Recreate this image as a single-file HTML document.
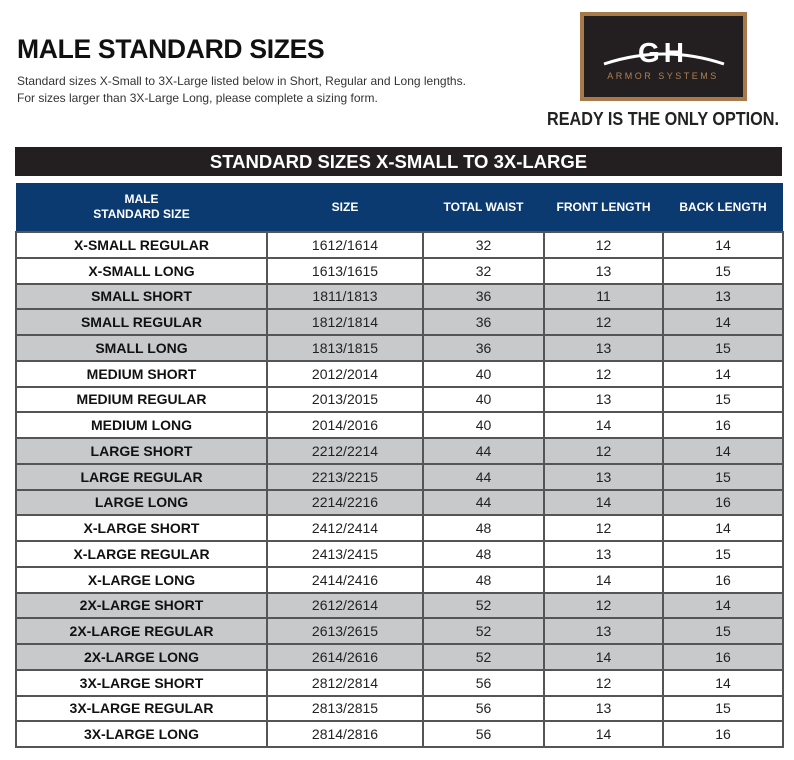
<!DOCTYPE html>
<html><head><meta charset="utf-8"><style>
body{margin:0;width:794px;height:760px;background:#fff;position:relative;font-family:"Liberation Sans",sans-serif;overflow:hidden}
.a{position:absolute}
table{position:absolute;left:15px;top:183px;border-collapse:collapse;width:767px;table-layout:fixed}
th{background:#0b3a71;color:#fff;font-size:12px;font-weight:bold;height:48px;padding:0;text-align:center;line-height:15px}
td{border:2px solid #555;height:23.75px;padding:0;text-align:center;font-size:14px;color:#222;line-height:14px}
td:first-child{font-weight:bold;font-size:14px;color:#111}
tr.g td{background:#c8c9cb}
</style></head><body>
<div class="a" style="left:17px;top:34px;font-size:26.5px;font-weight:bold;color:#111;letter-spacing:-0.3px">MALE STANDARD SIZES</div>
<div class="a" style="left:17px;top:73px;font-size:12px;color:#333;line-height:17px">Standard sizes X-Small to 3X-Large listed below in Short, Regular and Long lengths.<br>For sizes larger than 3X-Large Long, please complete a sizing form.</div>
<div class="a" style="left:580px;top:12px;width:159px;height:81px;background:#231f20;border:4px solid #a87a4a"></div>
<svg class="a" style="left:584px;top:16px" width="159" height="81">
<path d="M20 48 Q80 28 140 48" stroke="#fff" stroke-width="3" fill="none"/>
<text x="79" y="46" font-family="Liberation Sans" font-size="28" fill="#fff" text-anchor="middle" font-weight="bold" letter-spacing="4">GH</text>
<text x="79" y="63" font-family="Liberation Sans" font-size="9" fill="#b08050" text-anchor="middle" letter-spacing="2.5">ARMOR SYSTEMS</text>
</svg>
<div class="a" style="left:547px;top:109px;font-size:18px;font-weight:bold;color:#222;transform:scaleX(0.9);transform-origin:left;white-space:nowrap">READY IS THE ONLY OPTION.</div>
<div class="a" style="left:15px;top:147px;width:767px;height:29px;background:#231f20;color:#fff;font-size:18.5px;font-weight:bold;text-align:center;line-height:30px">STANDARD SIZES X-SMALL TO 3X-LARGE</div>
<table>
<colgroup><col style="width:251px"><col style="width:156px"><col style="width:121px"><col style="width:119px"><col style="width:120px"></colgroup>
<tr><th>MALE<br>STANDARD SIZE</th><th>SIZE</th><th>TOTAL WAIST</th><th>FRONT LENGTH</th><th>BACK LENGTH</th></tr>
<tr><td>X-SMALL REGULAR</td><td>1612/1614</td><td>32</td><td>12</td><td>14</td></tr>
<tr><td>X-SMALL LONG</td><td>1613/1615</td><td>32</td><td>13</td><td>15</td></tr>
<tr class="g"><td>SMALL SHORT</td><td>1811/1813</td><td>36</td><td>11</td><td>13</td></tr>
<tr class="g"><td>SMALL REGULAR</td><td>1812/1814</td><td>36</td><td>12</td><td>14</td></tr>
<tr class="g"><td>SMALL LONG</td><td>1813/1815</td><td>36</td><td>13</td><td>15</td></tr>
<tr><td>MEDIUM SHORT</td><td>2012/2014</td><td>40</td><td>12</td><td>14</td></tr>
<tr><td>MEDIUM REGULAR</td><td>2013/2015</td><td>40</td><td>13</td><td>15</td></tr>
<tr><td>MEDIUM LONG</td><td>2014/2016</td><td>40</td><td>14</td><td>16</td></tr>
<tr class="g"><td>LARGE SHORT</td><td>2212/2214</td><td>44</td><td>12</td><td>14</td></tr>
<tr class="g"><td>LARGE REGULAR</td><td>2213/2215</td><td>44</td><td>13</td><td>15</td></tr>
<tr class="g"><td>LARGE LONG</td><td>2214/2216</td><td>44</td><td>14</td><td>16</td></tr>
<tr><td>X-LARGE SHORT</td><td>2412/2414</td><td>48</td><td>12</td><td>14</td></tr>
<tr><td>X-LARGE REGULAR</td><td>2413/2415</td><td>48</td><td>13</td><td>15</td></tr>
<tr><td>X-LARGE LONG</td><td>2414/2416</td><td>48</td><td>14</td><td>16</td></tr>
<tr class="g"><td>2X-LARGE SHORT</td><td>2612/2614</td><td>52</td><td>12</td><td>14</td></tr>
<tr class="g"><td>2X-LARGE REGULAR</td><td>2613/2615</td><td>52</td><td>13</td><td>15</td></tr>
<tr class="g"><td>2X-LARGE LONG</td><td>2614/2616</td><td>52</td><td>14</td><td>16</td></tr>
<tr><td>3X-LARGE SHORT</td><td>2812/2814</td><td>56</td><td>12</td><td>14</td></tr>
<tr><td>3X-LARGE REGULAR</td><td>2813/2815</td><td>56</td><td>13</td><td>15</td></tr>
<tr><td>3X-LARGE LONG</td><td>2814/2816</td><td>56</td><td>14</td><td>16</td></tr>
</table>
</body></html>
